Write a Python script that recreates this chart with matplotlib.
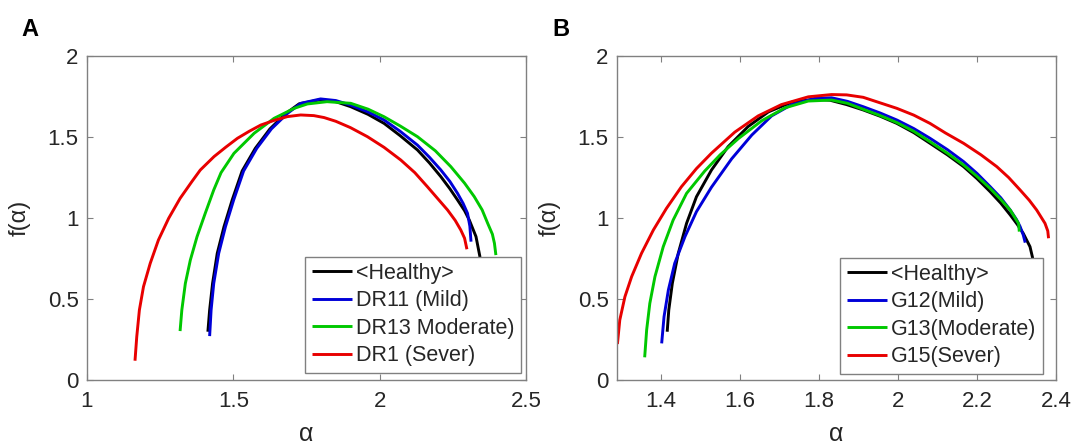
import matplotlib

matplotlib.use("Agg")
import matplotlib.pyplot as plt

plt.rcParams["font.family"] = ["Liberation Sans", "DejaVu Sans"]

# singularity spectra f(alpha), panel A (DR group)
A_LABELS = ["<Healthy>", "DR11 (Mild)", "DR13 Moderate)", "DR1 (Sever)"]
A_HEALTHY_ALPHA = [1.413, 1.419, 1.429, 1.445, 1.468, 1.496, 1.530, 1.575, 1.625, 1.680, 1.725, 1.797,
                   1.850, 1.901, 1.960, 2.015, 2.070, 2.129, 2.170, 2.209, 2.240, 2.266, 2.290, 2.306,
                   2.329, 2.342, 2.345]
A_HEALTHY_F = [0.298, 0.432, 0.596, 0.782, 0.946, 1.111, 1.290, 1.430, 1.550, 1.646, 1.705, 1.730,
               1.718, 1.687, 1.640, 1.584, 1.508, 1.420, 1.340, 1.255, 1.180, 1.111, 1.045, 0.988,
               0.885, 0.765, 0.720]
A_MILD_ALPHA = [1.419, 1.424, 1.433, 1.450, 1.473, 1.501, 1.535, 1.580, 1.630, 1.685, 1.731, 1.798,
                1.850, 1.901, 1.960, 2.015, 2.070, 2.129, 2.170, 2.209, 2.240, 2.266, 2.285, 2.300,
                2.308, 2.312]
A_MILD_F = [0.271, 0.432, 0.596, 0.782, 0.946, 1.111, 1.290, 1.430, 1.550, 1.646, 1.708, 1.735,
            1.725, 1.697, 1.655, 1.605, 1.535, 1.450, 1.375, 1.296, 1.225, 1.152, 1.090, 1.029,
            0.950, 0.854]
A_MODERATE_ALPHA = [1.318, 1.324, 1.336, 1.353, 1.376, 1.404, 1.433, 1.458, 1.502, 1.571, 1.639, 1.708,
                    1.753, 1.820, 1.901, 1.960, 2.015, 2.070, 2.129, 2.190, 2.243, 2.290, 2.323, 2.350,
                    2.369, 2.385, 2.392, 2.397]
A_MODERATE_F = [0.302, 0.432, 0.596, 0.740, 0.885, 1.029, 1.173, 1.280, 1.399, 1.523, 1.615, 1.677,
                1.704, 1.718, 1.708, 1.672, 1.625, 1.568, 1.502, 1.415, 1.317, 1.215, 1.132, 1.050,
                0.967, 0.900, 0.844, 0.771]
A_SEVER_ALPHA = [1.164, 1.170, 1.179, 1.193, 1.216, 1.244, 1.279, 1.318, 1.358, 1.387, 1.434, 1.474,
                 1.514, 1.554, 1.594, 1.640, 1.685, 1.730, 1.775, 1.810, 1.850, 1.900, 1.958, 2.015,
                 2.072, 2.120, 2.163, 2.232, 2.258, 2.277, 2.290, 2.298]
A_SEVER_F = [0.119, 0.267, 0.432, 0.576, 0.720, 0.864, 0.998, 1.121, 1.224, 1.296, 1.379, 1.437,
             1.492, 1.535, 1.574, 1.603, 1.626, 1.636, 1.632, 1.620, 1.597, 1.558, 1.502, 1.436,
             1.358, 1.280, 1.193, 1.049, 0.985, 0.926, 0.875, 0.807]

# panel B (G group)
B_LABELS = ["<Healthy>", "G12(Mild)", "G13(Moderate)", "G15(Sever)"]
B_HEALTHY_ALPHA = [1.416, 1.420, 1.429, 1.444, 1.465, 1.490, 1.528, 1.570, 1.621, 1.672, 1.731, 1.790,
                   1.828, 1.870, 1.912, 1.955, 1.997, 2.040, 2.081, 2.125, 2.166, 2.200, 2.233, 2.260,
                   2.284, 2.302, 2.317, 2.334, 2.340, 2.343]
B_HEALTHY_F = [0.298, 0.432, 0.597, 0.782, 0.967, 1.131, 1.296, 1.440, 1.565, 1.655, 1.715, 1.733,
               1.727, 1.700, 1.667, 1.628, 1.584, 1.527, 1.461, 1.390, 1.317, 1.243, 1.163, 1.092,
               1.019, 0.960, 0.905, 0.823, 0.761, 0.720]
B_MILD_ALPHA = [1.402, 1.408, 1.419, 1.435, 1.461, 1.490, 1.528, 1.579, 1.630, 1.680, 1.731, 1.790,
                1.832, 1.872, 1.912, 1.955, 1.997, 2.040, 2.081, 2.125, 2.166, 2.200, 2.233, 2.260,
                2.284, 2.300, 2.309, 2.317, 2.322]
B_MILD_F = [0.226, 0.391, 0.556, 0.720, 0.885, 1.039, 1.190, 1.365, 1.512, 1.630, 1.700, 1.739,
            1.742, 1.720, 1.687, 1.648, 1.605, 1.552, 1.492, 1.422, 1.348, 1.275, 1.194, 1.125,
            1.049, 0.990, 0.947, 0.895, 0.848]
B_MODERATE_ALPHA = [1.359, 1.364, 1.372, 1.385, 1.406, 1.431, 1.465, 1.511, 1.550, 1.596, 1.655, 1.714,
                    1.773, 1.832, 1.872, 1.912, 1.955, 1.997, 2.040, 2.081, 2.125, 2.166, 2.200, 2.233,
                    2.260, 2.284, 2.305, 2.307]
B_MODERATE_F = [0.140, 0.309, 0.473, 0.638, 0.823, 0.987, 1.152, 1.290, 1.390, 1.490, 1.600, 1.680,
                1.722, 1.728, 1.708, 1.671, 1.632, 1.589, 1.535, 1.471, 1.400, 1.327, 1.257, 1.183,
                1.115, 1.049, 0.967, 0.916]
B_SEVER_ALPHA = [1.290, 1.296, 1.309, 1.326, 1.351, 1.381, 1.414, 1.452, 1.490, 1.528, 1.587, 1.646,
                 1.705, 1.773, 1.832, 1.870, 1.912, 1.997, 2.040, 2.081, 2.120, 2.166, 2.210, 2.250,
                 2.280, 2.309, 2.332, 2.351, 2.372, 2.379, 2.381]
B_SEVER_F = [0.222, 0.370, 0.514, 0.638, 0.782, 0.926, 1.059, 1.193, 1.305, 1.400, 1.530, 1.630,
             1.700, 1.748, 1.762, 1.760, 1.745, 1.677, 1.635, 1.584, 1.525, 1.461, 1.390, 1.317,
             1.250, 1.173, 1.110, 1.049, 0.967, 0.920, 0.875]

A_XTICKS = [1, 1.5, 2, 2.5]
B_XTICKS = [1.4, 1.6, 1.8, 2, 2.2, 2.4]
YTICKS = [0, 0.5, 1, 1.5, 2]

COLORS = ["#000000", "#0000d8", "#00c800", "#e80000"]
AXIS_GREY = "#808080"
TEXT_COLOR = "#262626"


def fmt(v: float) -> str:
    return f"{v:g}"


def draw_panel(ax, curves, labels, xticks, xlim, legend_anchor):
    for (alpha, f), color, label in zip(curves, COLORS, labels):
        ax.plot(alpha, f, color=color, lw=2.1, label=label, solid_capstyle="butt",
                solid_joinstyle="round")

    ax.set_xlim(*xlim)
    ax.set_ylim(0, 2)
    ax.set_xticks(xticks)
    ax.set_xticklabels([fmt(v) for v in xticks])
    ax.set_yticks(YTICKS)
    ax.set_yticklabels([fmt(v) for v in YTICKS])
    ax.tick_params(direction="in", length=4, width=0.8, color=AXIS_GREY,
                   labelsize=16, labelcolor=TEXT_COLOR, top=True, right=True)
    ax.tick_params(axis="x", pad=8)
    ax.tick_params(axis="y", pad=6)
    for spine in ax.spines.values():
        spine.set_color(AXIS_GREY)
        spine.set_linewidth(1.0)

    ax.set_xlabel("α", fontsize=18, color=TEXT_COLOR, labelpad=7)
    ax.set_ylabel("f(α)", fontsize=17, color=TEXT_COLOR, labelpad=12)

    leg = ax.legend(loc="lower right", bbox_to_anchor=legend_anchor, fontsize=15.5,
                    frameon=True, fancybox=False, framealpha=1, borderaxespad=0,
                    handlelength=1.86, handletextpad=0.19, labelspacing=0.3,
                    borderpad=0.3)
    leg.get_frame().set_edgecolor(AXIS_GREY)
    leg.get_frame().set_linewidth(1.0)
    for text in leg.get_texts():
        text.set_color(TEXT_COLOR)


def main() -> None:
    fig = plt.figure(figsize=(10.74, 4.48), dpi=100)
    ax_a = fig.add_axes((0.081, 0.1518, 0.4088, 0.7232))
    ax_b = fig.add_axes((0.5745, 0.1518, 0.4088, 0.7232))

    curves_a = [
        (A_HEALTHY_ALPHA, A_HEALTHY_F),
        (A_MILD_ALPHA, A_MILD_F),
        (A_MODERATE_ALPHA, A_MODERATE_F),
        (A_SEVER_ALPHA, A_SEVER_F),
    ]
    curves_b = [
        (B_HEALTHY_ALPHA, B_HEALTHY_F),
        (B_MILD_ALPHA, B_MILD_F),
        (B_MODERATE_ALPHA, B_MODERATE_F),
        (B_SEVER_ALPHA, B_SEVER_F),
    ]
    draw_panel(ax_a, curves_a, A_LABELS, A_XTICKS, (1, 2.5), (0.988, 0.022))
    draw_panel(ax_b, curves_b, B_LABELS, B_XTICKS, (1.289, 2.4), (0.970, 0.019))

    fig.text(21 / 1074, 1 - 18 / 448, "A", fontsize=17, fontweight="bold", va="top", ha="left")
    fig.text(552 / 1074, 1 - 18 / 448, "B", fontsize=17, fontweight="bold", va="top", ha="left")

    fig.savefig("out.png", dpi=100)


if __name__ == "__main__":
    main()
